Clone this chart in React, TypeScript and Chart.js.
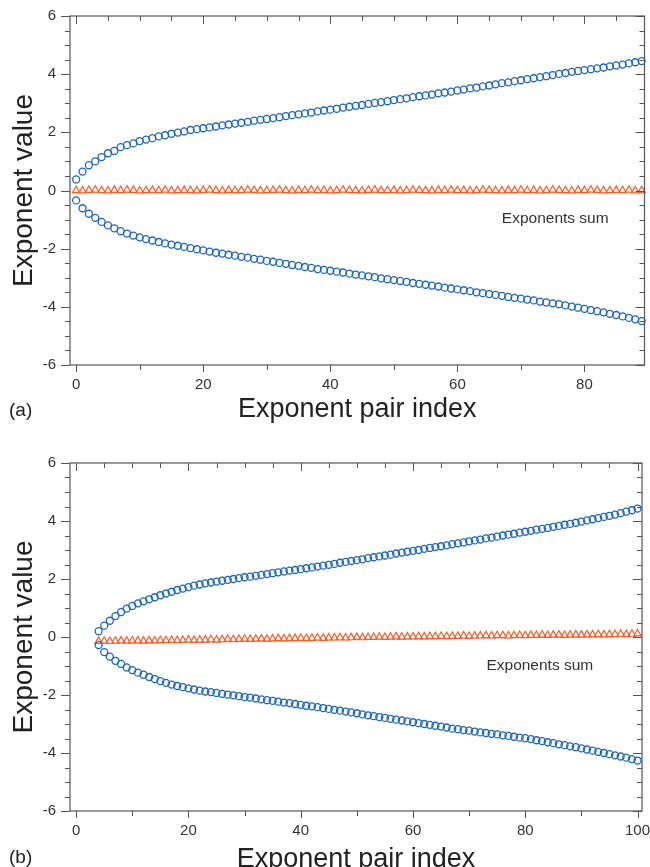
import React, { useEffect, useRef } from 'react';
import { Chart, registerables } from 'chart.js';

Chart.register(...registerables);

const FONT = "'Liberation Sans', Arial, Helvetica, sans-serif";
const BLUE = '#1b66c0';
const ORANGE = '#ff5a26';
const AXIS = '#555555';
const TEXT = '#333333';

// ---------- Panel (a) data: exponent pair index 0..89 ----------
const A_START = 0;
const A_UP = [
  0.38, 0.65, 0.87, 1.0, 1.15, 1.28, 1.36, 1.49, 1.56, 1.62,
  1.7, 1.75, 1.8, 1.86, 1.9, 1.95, 1.99, 2.03, 2.08, 2.11,
  2.14, 2.17, 2.2, 2.24, 2.27, 2.3, 2.33, 2.36, 2.4, 2.43,
  2.46, 2.49, 2.52, 2.56, 2.59, 2.62, 2.65, 2.68, 2.72, 2.75,
  2.78, 2.81, 2.85, 2.88, 2.91, 2.94, 2.98, 3.01, 3.04, 3.07,
  3.11, 3.14, 3.17, 3.21, 3.24, 3.27, 3.3, 3.34, 3.37, 3.4,
  3.44, 3.47, 3.51, 3.54, 3.58, 3.61, 3.65, 3.69, 3.72, 3.76,
  3.79, 3.83, 3.86, 3.9, 3.93, 3.97, 4.01, 4.04, 4.08, 4.11,
  4.14, 4.17, 4.2, 4.23, 4.27, 4.3, 4.33, 4.37, 4.41, 4.45,
];
const A_DN = [
  -0.34, -0.61, -0.8, -0.94, -1.08, -1.2, -1.3, -1.4, -1.48, -1.55,
  -1.61, -1.67, -1.72, -1.77, -1.82, -1.86, -1.9, -1.94, -1.98, -2.02,
  -2.06, -2.1, -2.14, -2.17, -2.21, -2.24, -2.28, -2.31, -2.35, -2.38,
  -2.42, -2.45, -2.49, -2.52, -2.56, -2.59, -2.63, -2.66, -2.7, -2.73,
  -2.76, -2.79, -2.82, -2.86, -2.89, -2.92, -2.95, -2.98, -3.02, -3.05,
  -3.08, -3.11, -3.14, -3.18, -3.21, -3.24, -3.27, -3.3, -3.34, -3.37,
  -3.4, -3.43, -3.46, -3.5, -3.53, -3.56, -3.59, -3.62, -3.66, -3.69,
  -3.72, -3.75, -3.78, -3.82, -3.85, -3.88, -3.91, -3.95, -3.99, -4.03,
  -4.07, -4.11, -4.15, -4.19, -4.24, -4.28, -4.33, -4.38, -4.43, -4.49,
];
const A_SUM = [
  0.0, -0.01, 0.01, 0.02, 0.0, -0.01, 0.01, 0.0, 0.02, 0.01,
  -0.01, 0.0, 0.01, 0.0, 0.02, -0.01, 0.0, 0.01, 0.0, -0.01,
  0.01, 0.02, 0.0, -0.01, 0.01, 0.0, 0.0, 0.02, 0.01, -0.01,
  0.0, 0.01, 0.02, 0.0, -0.01, 0.01, 0.0, 0.02, 0.0, 0.01,
  -0.01, 0.0, 0.02, 0.01, 0.0, -0.01, 0.01, 0.02, 0.0, 0.0,
  0.01, -0.01, 0.0, 0.02, 0.01, 0.0, -0.01, 0.01, 0.0, 0.02,
  0.0, 0.01, -0.01, 0.0, 0.02, 0.01, 0.0, -0.01, 0.01, 0.0,
  0.02, 0.0, 0.01, -0.01, 0.0, 0.02, 0.01, 0.0, -0.01, 0.01,
  0.0, 0.02, 0.01, -0.01, 0.0, 0.01, 0.0, 0.02, -0.01, 0.0,
];
const A_X_TICKS = [0, 20, 40, 60, 80];

// ---------- Panel (b) data: exponent pair index 4..100 ----------
const B_START = 4;
const B_UP = [
  0.2, 0.39, 0.56, 0.72, 0.86, 0.98, 1.07, 1.16, 1.23, 1.3,
  1.37, 1.44, 1.5, 1.56, 1.62, 1.67, 1.72, 1.77, 1.81, 1.85,
  1.88, 1.91, 1.94, 1.97, 2.0, 2.03, 2.06, 2.08, 2.11, 2.14,
  2.17, 2.2, 2.23, 2.26, 2.29, 2.31, 2.34, 2.37, 2.4, 2.43,
  2.46, 2.49, 2.52, 2.56, 2.59, 2.62, 2.65, 2.68, 2.72, 2.75,
  2.78, 2.81, 2.84, 2.88, 2.91, 2.94, 2.97, 3.0, 3.04, 3.07,
  3.1, 3.13, 3.16, 3.2, 3.23, 3.26, 3.3, 3.33, 3.36, 3.4,
  3.43, 3.46, 3.5, 3.53, 3.56, 3.6, 3.63, 3.66, 3.7, 3.73,
  3.76, 3.8, 3.83, 3.87, 3.9, 3.94, 3.98, 4.02, 4.06, 4.1,
  4.14, 4.18, 4.22, 4.27, 4.32, 4.37, 4.43,
];
const B_DN = [
  -0.28, -0.52, -0.68, -0.82, -0.93, -1.05, -1.14, -1.23, -1.3, -1.38,
  -1.45, -1.52, -1.58, -1.64, -1.69, -1.73, -1.77, -1.81, -1.85, -1.88,
  -1.9, -1.93, -1.96, -1.99, -2.01, -2.04, -2.07, -2.09, -2.12, -2.15,
  -2.18, -2.2, -2.23, -2.26, -2.28, -2.31, -2.34, -2.37, -2.39, -2.42,
  -2.45, -2.48, -2.51, -2.54, -2.57, -2.6, -2.63, -2.67, -2.7, -2.73,
  -2.76, -2.79, -2.82, -2.85, -2.88, -2.91, -2.94, -2.97, -3.0, -3.03,
  -3.06, -3.09, -3.12, -3.16, -3.18, -3.21, -3.23, -3.26, -3.29, -3.31,
  -3.34, -3.36, -3.39, -3.41, -3.44, -3.47, -3.49, -3.52, -3.56, -3.59,
  -3.63, -3.66, -3.7, -3.73, -3.77, -3.8, -3.84, -3.88, -3.92, -3.96,
  -4.0, -4.04, -4.08, -4.12, -4.16, -4.21, -4.26,
];
const B_SUM = [
  -0.15, -0.14, -0.15, -0.14, -0.13, -0.14, -0.13, -0.13, -0.14, -0.12,
  -0.13, -0.12, -0.12, -0.11, -0.12, -0.11, -0.1, -0.11, -0.1, -0.1,
  -0.09, -0.1, -0.09, -0.08, -0.09, -0.08, -0.07, -0.08, -0.07, -0.06,
  -0.07, -0.06, -0.05, -0.06, -0.05, -0.05, -0.04, -0.05, -0.04, -0.03,
  -0.04, -0.03, -0.03, -0.02, -0.03, -0.02, -0.01, -0.02, -0.01, -0.01,
  0.0, -0.01, 0.0, 0.01, 0.0, 0.01, 0.01, 0.02, 0.01, 0.02,
  0.02, 0.03, 0.02, 0.03, 0.03, 0.04, 0.03, 0.04, 0.04, 0.05,
  0.04, 0.05, 0.05, 0.04, 0.05, 0.06, 0.05, 0.06, 0.06, 0.07,
  0.06, 0.07, 0.07, 0.06, 0.07, 0.08, 0.07, 0.08, 0.08, 0.09,
  0.08, 0.09, 0.09, 0.1, 0.09, 0.1, 0.11,
];
const B_X_TICKS = [0, 20, 40, 60, 80, 100];

const Y_TICKS = [-6, -4, -2, 0, 2, 4, 6];
const Y_MIN = -6;
const Y_MAX = 6;
const Y_MINOR_STEP = 0.5;
const Y_MAJOR_STEP = 2;
const X_TOP_STEP = 5;
const X_BOTTOM_STEP = 10;
const X_MAJOR_STEP = 20;

const X_TITLE = 'Exponent pair index';
const Y_TITLE = 'Exponent value';
const SUM_LABEL = 'Exponents sum';

type PanelSpec = {
  start: number;
  up: number[];
  dn: number[];
  sum: number[];
  xTicks: number[];
  xMin: number;
  xMax: number;
  height: number;
  padTop: number;
  padRight: number;
  xAxisHeight: number;
  labelAt: { x: number; y: number };
};

const PANEL_A: PanelSpec = {
  start: A_START,
  up: A_UP,
  dn: A_DN,
  sum: A_SUM,
  xTicks: A_X_TICKS,
  xMin: -0.97,
  xMax: 89.45,
  height: 430,
  padTop: 16,
  padRight: 4,
  xAxisHeight: 65,
  labelAt: { x: 75.4, y: -0.97 },
};

const PANEL_B: PanelSpec = {
  start: B_START,
  up: B_UP,
  dn: B_DN,
  sum: B_SUM,
  xTicks: B_X_TICKS,
  xMin: -1.1,
  xMax: 100.8,
  height: 450,
  padTop: 33,
  padRight: 8,
  xAxisHeight: 69,
  labelAt: { x: 82.6, y: -1.0 },
};

function toPoints(start: number, values: number[]) {
  return values.map((v, i) => ({ x: start + i, y: v }));
}

function makeFramePlugin(spec: PanelSpec) {
  return {
    id: 'frameTicks',
    afterDatasetsDraw(chart: any) {
      const { ctx, chartArea, scales } = chart;
      const { left, right, top, bottom } = chartArea;
      const x = scales.x;
      const y = scales.y;
      ctx.save();
      ctx.strokeStyle = AXIS;
      ctx.lineWidth = 1.2;
      ctx.strokeRect(left, top, right - left, bottom - top);
      ctx.lineWidth = 1;
      const seg = (x1: number, y1: number, x2: number, y2: number) => {
        ctx.beginPath();
        ctx.moveTo(x1, y1);
        ctx.lineTo(x2, y2);
        ctx.stroke();
      };
      const nY = Math.round((Y_MAX - Y_MIN) / Y_MINOR_STEP);
      for (let k = 0; k <= nY; k++) {
        const v = Y_MIN + k * Y_MINOR_STEP;
        const py = Math.round(y.getPixelForValue(v)) + 0.5;
        const major = Math.abs(v / Y_MAJOR_STEP - Math.round(v / Y_MAJOR_STEP)) < 1e-9;
        const L = major ? 9 : 5;
        seg(left - L, py, left, py);
        seg(right - L, py, right, py);
      }
      for (let v = 0; v <= x.max; v += X_TOP_STEP) {
        const px = Math.round(x.getPixelForValue(v)) + 0.5;
        const major = v % X_MAJOR_STEP === 0;
        seg(px, top, px, top + (major ? 8 : 5));
      }
      for (let v = 0; v <= x.max + 0.5; v += X_BOTTOM_STEP) {
        const px = Math.round(x.getPixelForValue(v)) + 0.5;
        const major = v % X_MAJOR_STEP === 0;
        seg(px, bottom, px, bottom + (major ? 7 : 5));
      }
      // annotation
      ctx.fillStyle = TEXT;
      ctx.font = `15.5px ${FONT}`;
      ctx.textAlign = 'center';
      ctx.textBaseline = 'middle';
      ctx.fillText(SUM_LABEL, x.getPixelForValue(spec.labelAt.x), y.getPixelForValue(spec.labelAt.y));
      ctx.restore();
    },
  };
}

function Panel({ spec }: { spec: PanelSpec }) {
  const ref = useRef<HTMLCanvasElement | null>(null);
  useEffect(() => {
    if (!ref.current) return;
    const circle = {
      pointStyle: 'circle',
      pointRadius: 3.5,
      pointBorderWidth: 1.3,
      borderWidth: 1.3,
      borderColor: BLUE,
      pointBorderColor: BLUE,
      backgroundColor: 'rgba(0,0,0,0)',
      pointBackgroundColor: 'rgba(0,0,0,0)',
      showLine: false,
      clip: false,
    };
    const chart = new Chart(ref.current, {
      type: 'scatter',
      data: {
        datasets: [
          { label: 'upper', data: toPoints(spec.start, spec.up), ...circle } as any,
          { label: 'lower', data: toPoints(spec.start, spec.dn), ...circle } as any,
          {
            label: 'sum',
            data: toPoints(spec.start, spec.sum),
            pointStyle: 'triangle',
            pointRadius: 4.3,
            pointBorderWidth: 1.2,
            borderWidth: 1.2,
            borderColor: ORANGE,
            pointBorderColor: ORANGE,
            backgroundColor: 'rgba(0,0,0,0)',
            pointBackgroundColor: 'rgba(0,0,0,0)',
            showLine: false,
            clip: false,
          } as any,
        ],
      },
      options: {
        responsive: false,
        animation: false,
        events: [],
        layout: { padding: { left: 0, top: spec.padTop, right: spec.padRight, bottom: 0 } },
        plugins: { legend: { display: false }, tooltip: { enabled: false } },
        scales: {
          x: {
            type: 'linear',
            position: 'bottom',
            min: spec.xMin,
            max: spec.xMax,
            grid: { display: false, drawTicks: false },
            border: { display: false },
            afterBuildTicks: (a: any) => {
              a.ticks = spec.xTicks.map((v) => ({ value: v }));
            },
            afterFit: (a: any) => {
              a.height = spec.xAxisHeight;
              a.paddingLeft = 0;
              a.paddingRight = 0;
            },
            ticks: {
              font: { size: 15, family: FONT },
              color: TEXT,
              padding: 11,
              maxRotation: 0,
              autoSkip: false,
            },
            title: {
              display: true,
              text: X_TITLE,
              font: { size: 27, family: FONT },
              color: '#222',
              padding: { top: 0, bottom: 4 },
            },
          },
          y: {
            type: 'linear',
            position: 'left',
            min: Y_MIN,
            max: Y_MAX,
            grid: { display: false, drawTicks: false },
            border: { display: false },
            afterBuildTicks: (a: any) => {
              a.ticks = Y_TICKS.map((v) => ({ value: v }));
            },
            afterFit: (a: any) => {
              a.width = 70;
              a.paddingTop = 0;
              a.paddingBottom = 0;
            },
            ticks: {
              font: { size: 15, family: FONT },
              color: TEXT,
              padding: 14,
              autoSkip: false,
            },
            title: {
              display: true,
              text: Y_TITLE,
              font: { size: 28, family: FONT },
              color: '#222',
              padding: { top: 7, bottom: 0 },
            },
          },
        },
      } as any,
      plugins: [makeFramePlugin(spec)],
    });
    return () => chart.destroy();
  }, [spec]);
  return (
    <canvas
      ref={ref}
      width={650}
      height={spec.height}
      style={{ display: 'block', width: 650, height: spec.height }}
    />
  );
}

const panelLabel: React.CSSProperties = {
  position: 'absolute',
  left: 9,
  fontSize: 19,
  lineHeight: '22px',
  fontFamily: FONT,
  color: '#222',
};

export default function App() {
  return (
    <div
      style={{
        position: 'fixed',
        left: 0,
        top: 0,
        width: 650,
        height: 867,
        overflow: 'hidden',
        background: '#fff',
      }}
    >
      <div style={{ position: 'absolute', left: 0, top: 0 }}>
        <Panel spec={PANEL_A} />
      </div>
      <div style={{ position: 'absolute', left: 0, top: 430 }}>
        <Panel spec={PANEL_B} />
      </div>
      <span style={{ ...panelLabel, top: 399 }}>(a)</span>
      <span style={{ ...panelLabel, top: 846 }}>(b)</span>
    </div>
  );
}
